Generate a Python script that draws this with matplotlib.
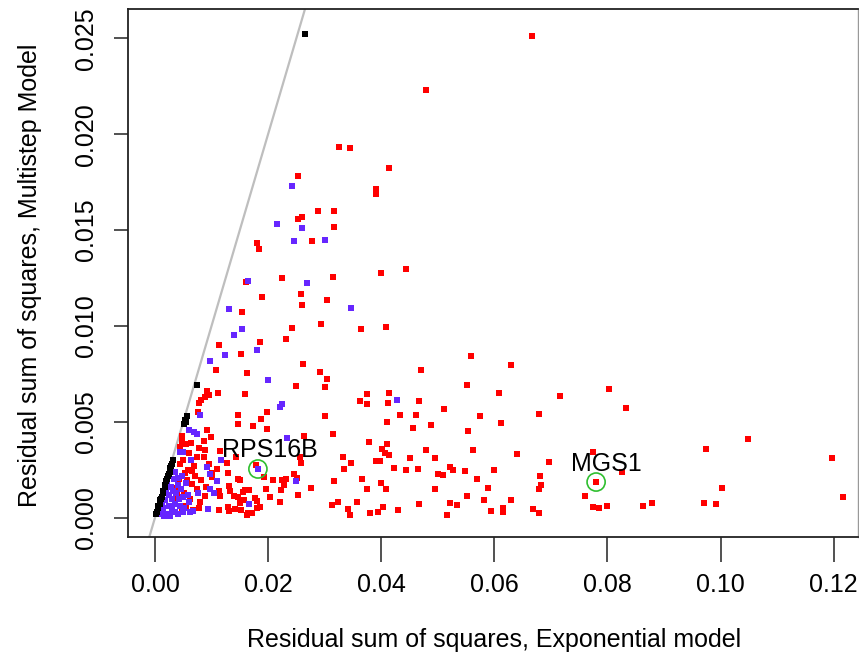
import matplotlib
matplotlib.use("Agg")
import matplotlib.pyplot as plt

plt.rcParams['font.family'] = ['Liberation Sans', 'DejaVu Sans']

# ---------------- data ----------------
red_x = [0.0666, 0.0480, 0.0326, 0.0344, 0.0413, 0.0253, 0.0390, 0.0390, 0.0288, 0.0316,
         0.0252, 0.0260, 0.0317, 0.0180, 0.0184, 0.0278, 0.0400, 0.0444, 0.0161, 0.0225,
         0.0315, 0.0258, 0.0190, 0.0304, 0.0260, 0.0154, 0.0294, 0.0243, 0.0365, 0.0408,
         0.0232, 0.0186, 0.0114, 0.0152, 0.0262, 0.0107, 0.0162, 0.0292, 0.0305, 0.0470,
         0.0249, 0.0301, 0.0092, 0.0096, 0.0088, 0.0081, 0.0077, 0.0111, 0.0159, 0.0375,
         0.0363, 0.0375, 0.0414, 0.0412, 0.0466, 0.0198, 0.0076, 0.0147, 0.0301, 0.0433,
         0.0461, 0.0146, 0.0188, 0.0173, 0.0198, 0.0092, 0.0410, 0.0456, 0.0263, 0.0314,
         0.0378, 0.0410, 0.0048, 0.0047, 0.0044, 0.0064, 0.0087, 0.0099, 0.0078, 0.0088,
         0.0087, 0.0054, 0.0074, 0.0115, 0.0110, 0.0128, 0.0144, 0.0179, 0.0192, 0.0257,
         0.0259, 0.0332, 0.0346, 0.0390, 0.0397, 0.0407, 0.0414, 0.0401, 0.0422, 0.0443,
         0.0451, 0.0465, 0.0335, 0.0366, 0.0316, 0.0276, 0.0246, 0.0251, 0.0225, 0.0231,
         0.0228, 0.0223, 0.0209, 0.0196, 0.0203, 0.0221, 0.0253, 0.0313, 0.0324, 0.0342,
         0.0344, 0.0358, 0.0380, 0.0394, 0.0404, 0.0430, 0.0467, 0.0375, 0.0399, 0.0409,
         0.0147, 0.0129, 0.0100, 0.0101, 0.0081, 0.0088, 0.0113, 0.0115, 0.0130, 0.0133,
         0.0150, 0.0159, 0.0166, 0.0140, 0.0146, 0.0155, 0.0157, 0.0176, 0.0181, 0.0180,
         0.0186, 0.0129, 0.0131, 0.0150, 0.0152, 0.0164, 0.0172, 0.0162, 0.0077, 0.0114,
         0.0142, 0.0051, 0.0039, 0.0032, 0.0038, 0.0069, 0.0065, 0.0059, 0.0053, 0.0057,
         0.0065, 0.0050, 0.0060, 0.0045, 0.0070, 0.0075, 0.0062, 0.0055, 0.0068, 0.0080,
         0.0042, 0.0035, 0.0048, 0.0028, 0.0090, 0.0095,
         0.0558, 0.0629, 0.0551, 0.0609, 0.0716, 0.0803, 0.0832, 0.0511, 0.0575, 0.0679,
         0.0488, 0.0612, 0.0553, 0.1049, 0.0975, 0.1197, 0.0480, 0.0563, 0.0775, 0.0496,
         0.0640, 0.0697, 0.0522, 0.0527, 0.0500, 0.0509, 0.0548, 0.0599, 0.0826, 0.0680,
         0.0682, 0.0679, 0.0780, 0.0570, 0.0588, 0.0496, 0.1003, 0.1217, 0.0552, 0.0760,
         0.0581, 0.0630, 0.0522, 0.0534, 0.0616, 0.0615, 0.0594, 0.0517, 0.0668, 0.0679,
         0.0774, 0.0785, 0.0800, 0.0863, 0.0879, 0.0970, 0.0992]
red_y = [0.02514, 0.02232, 0.01935, 0.01928, 0.01825, 0.01782, 0.01713, 0.01688, 0.01598, 0.01598,
         0.01559, 0.01568, 0.01514, 0.01431, 0.01403, 0.01443, 0.01276, 0.01299, 0.01229, 0.01248,
         0.01254, 0.01167, 0.01149, 0.01137, 0.01109, 0.01073, 0.01010, 0.00988, 0.00982, 0.00996,
         0.00932, 0.00918, 0.00901, 0.00855, 0.00802, 0.00770, 0.00756, 0.00760, 0.00725, 0.00772,
         0.00685, 0.00683, 0.00661, 0.00640, 0.00628, 0.00614, 0.00597, 0.00652, 0.00644, 0.00645,
         0.00609, 0.00593, 0.00652, 0.00597, 0.00609, 0.00553, 0.00553, 0.00537, 0.00529, 0.00537,
         0.00536, 0.00490, 0.00513, 0.00478, 0.00463, 0.00456, 0.00501, 0.00468, 0.00426, 0.00435,
         0.00396, 0.00383, 0.00426, 0.00396, 0.00370, 0.00391, 0.00398, 0.00422, 0.00365, 0.00353,
         0.00318, 0.00383, 0.00318, 0.00349, 0.00256, 0.00284, 0.00315, 0.00275, 0.00211, 0.00318,
         0.00287, 0.00318, 0.00285, 0.00294, 0.00296, 0.00336, 0.00327, 0.00358, 0.00261, 0.00247,
         0.00310, 0.00254, 0.00252, 0.00202, 0.00190, 0.00156, 0.00226, 0.00205, 0.00197, 0.00202,
         0.00171, 0.00144, 0.00197, 0.00148, 0.00110, 0.00083, 0.00118, 0.00066, 0.00080, 0.00044,
         0.00014, 0.00080, 0.00025, 0.00031, 0.00057, 0.00040, 0.00070, 0.00148, 0.00183, 0.00148,
         0.00203, 0.00232, 0.00235, 0.00214, 0.00197, 0.00113, 0.00139, 0.00113, 0.00165, 0.00138,
         0.00197, 0.00144, 0.00144, 0.00115, 0.00110, 0.00132, 0.00092, 0.00101, 0.00087, 0.00052,
         0.00057, 0.00057, 0.00037, 0.00075, 0.00040, 0.00026, 0.00023, 0.00014, 0.00049, 0.00040,
         0.00044, 0.00127, 0.00117, 0.00148, 0.00153, 0.00270, 0.00245, 0.00249, 0.00232, 0.00197,
         0.00176, 0.00300, 0.00340, 0.00280, 0.00220, 0.00150, 0.00100, 0.00060, 0.00040, 0.00080,
         0.00200, 0.00090, 0.00040, 0.00060, 0.00160, 0.00280,
         0.00845, 0.00798, 0.00692, 0.00652, 0.00635, 0.00670, 0.00571, 0.00567, 0.00529, 0.00539,
         0.00483, 0.00492, 0.00454, 0.00409, 0.00358, 0.00313, 0.00355, 0.00351, 0.00344, 0.00313,
         0.00331, 0.00292, 0.00263, 0.00249, 0.00226, 0.00223, 0.00244, 0.00247, 0.00240, 0.00216,
         0.00171, 0.00150, 0.00186, 0.00200, 0.00155, 0.00151, 0.00155, 0.00108, 0.00115, 0.00113,
         0.00091, 0.00094, 0.00075, 0.00065, 0.00049, 0.00028, 0.00033, 0.00016, 0.00045, 0.00025,
         0.00057, 0.00051, 0.00063, 0.00061, 0.00077, 0.00075, 0.00070]

blue_x = [0.0242, 0.0215, 0.0260, 0.0246, 0.0301, 0.0165, 0.0269, 0.0346, 0.0131, 0.0154,
          0.0140, 0.0180, 0.0123, 0.0097, 0.0200, 0.0428, 0.0225, 0.0221, 0.0080, 0.0234,
          0.0061, 0.0069, 0.0074, 0.0045, 0.0050, 0.0063, 0.0117, 0.0092, 0.0182, 0.0249,
          0.0098, 0.0110, 0.0076, 0.0097, 0.0105, 0.0166, 0.0094, 0.0068, 0.0049, 0.0050,
          0.0041,
          0.0010, 0.0015, 0.0020, 0.0025, 0.0030, 0.0035, 0.0018, 0.0024, 0.0030, 0.0036,
          0.0040, 0.0044, 0.0028, 0.0033, 0.0038, 0.0042, 0.0012, 0.0022, 0.0046, 0.0052,
          0.0058, 0.0026, 0.0016, 0.0032, 0.0040, 0.0048, 0.0055, 0.0060, 0.0035, 0.0008,
          0.0020, 0.0062]
blue_y = [0.01730, 0.01532, 0.01512, 0.01443, 0.01448, 0.01236, 0.01222, 0.01092, 0.01088, 0.00984,
          0.00951, 0.00873, 0.00848, 0.00816, 0.00718, 0.00614, 0.00594, 0.00579, 0.00534, 0.00417,
          0.00457, 0.00445, 0.00436, 0.00341, 0.00344, 0.00301, 0.00301, 0.00263, 0.00254, 0.00193,
          0.00226, 0.00190, 0.00127, 0.00148, 0.00127, 0.00070, 0.00047, 0.00037, 0.00028, 0.00106,
          0.00205,
          0.00030, 0.00050, 0.00020, 0.00060, 0.00040, 0.00030, 0.00090, 0.00120, 0.00100, 0.00070,
          0.00020, 0.00060, 0.00160, 0.00200, 0.00130, 0.00100, 0.00080, 0.00170, 0.00150, 0.00050,
          0.00120, 0.00010, 0.00010, 0.00140, 0.00170, 0.00220, 0.00180, 0.00080, 0.00240, 0.00020,
          0.00130, 0.00030]

black_x = [0.0002, 0.0003, 0.0005, 0.0006, 0.0008, 0.0009, 0.0011, 0.0012, 0.0014, 0.0015,
           0.0017, 0.0018, 0.0020, 0.0021, 0.0023, 0.0024, 0.0026, 0.0027, 0.0029, 0.0030,
           0.0032, 0.0052, 0.0053, 0.0056, 0.0055, 0.0075, 0.0265]
black_y = [0.0002, 0.0003, 0.0005, 0.0006, 0.0007, 0.0009, 0.0010, 0.0011, 0.0013, 0.0014,
           0.0016, 0.0017, 0.0019, 0.0020, 0.0022, 0.0023, 0.0024, 0.0026, 0.0027, 0.0028,
           0.0030, 0.0049, 0.0051, 0.0053, 0.0050, 0.0069, 0.0252]

# highlighted genes: point position and label position
gene_names = ["RPS16B", "MGS1"]
gene_x = [0.0182, 0.0780]
gene_y = [0.00254, 0.00186]
gene_label_x = [0.0203, 0.0798]
gene_label_y = [0.00353, 0.00280]

x_ticks = [0.00, 0.02, 0.04, 0.06, 0.08, 0.10, 0.12]
y_ticks = [0.000, 0.005, 0.010, 0.015, 0.020, 0.025]

# ---------------- figure ----------------
W, H = 859, 661
fig = plt.figure(figsize=(W / 100, H / 100), dpi=100)
ax = fig.add_axes([128.3 / W, 1 - 537 / H, (858 - 128.3) / W, (537 - 9.3) / H])

ax.set_xlim(-0.00472, 0.12431)
ax.set_ylim(-0.001006, 0.02651)

ax.axline((0, 0), slope=1, color="#bebebe", lw=1.6, zorder=1)

ms = 24
ax.scatter(red_x, red_y, s=ms, marker="s", color="#ff0000", linewidths=0, zorder=2)
ax.scatter(blue_x, blue_y, s=ms, marker="s", color="#6626ff", linewidths=0, zorder=3)
ax.scatter(black_x, black_y, s=ms, marker="s", color="#000000", linewidths=0, zorder=4)

ax.scatter(gene_x, gene_y, s=170, marker="o", facecolors="none",
           edgecolors="#2fbf2f", linewidths=1.2, zorder=5)
for name, lx, ly in zip(gene_names, gene_label_x, gene_label_y):
    ax.text(lx, ly, name, fontsize=18, ha="center", va="center", color="black", zorder=6)

ax.set_xticks(x_ticks)
ax.set_xticklabels([f"{v:.2f}" for v in x_ticks])
ax.set_yticks(y_ticks)
ax.set_yticklabels([f"{v:.3f}" for v in y_ticks], rotation=90, va="center")

ax.tick_params(axis="x", length=18, width=1.1, pad=8, labelsize=18, color="#222222")
ax.tick_params(axis="y", length=10, width=1.1, pad=12, labelsize=18, color="#222222")

for side in ["left", "bottom", "top"]:
    ax.spines[side].set_linewidth(1.3)
    ax.spines[side].set_color("#222222")
ax.spines["right"].set_linewidth(1.0)
ax.spines["right"].set_color("#999999")

fig.text(494 / W, 1 - 640 / H, "Residual sum of squares, Exponential model",
         ha="center", va="center", fontsize=18)
fig.text(30 / W, 1 - 275 / H, "Residual sum of squares, Multistep Model",
         ha="center", va="center", rotation=90, fontsize=18)

fig.savefig("out.png", dpi=100)
